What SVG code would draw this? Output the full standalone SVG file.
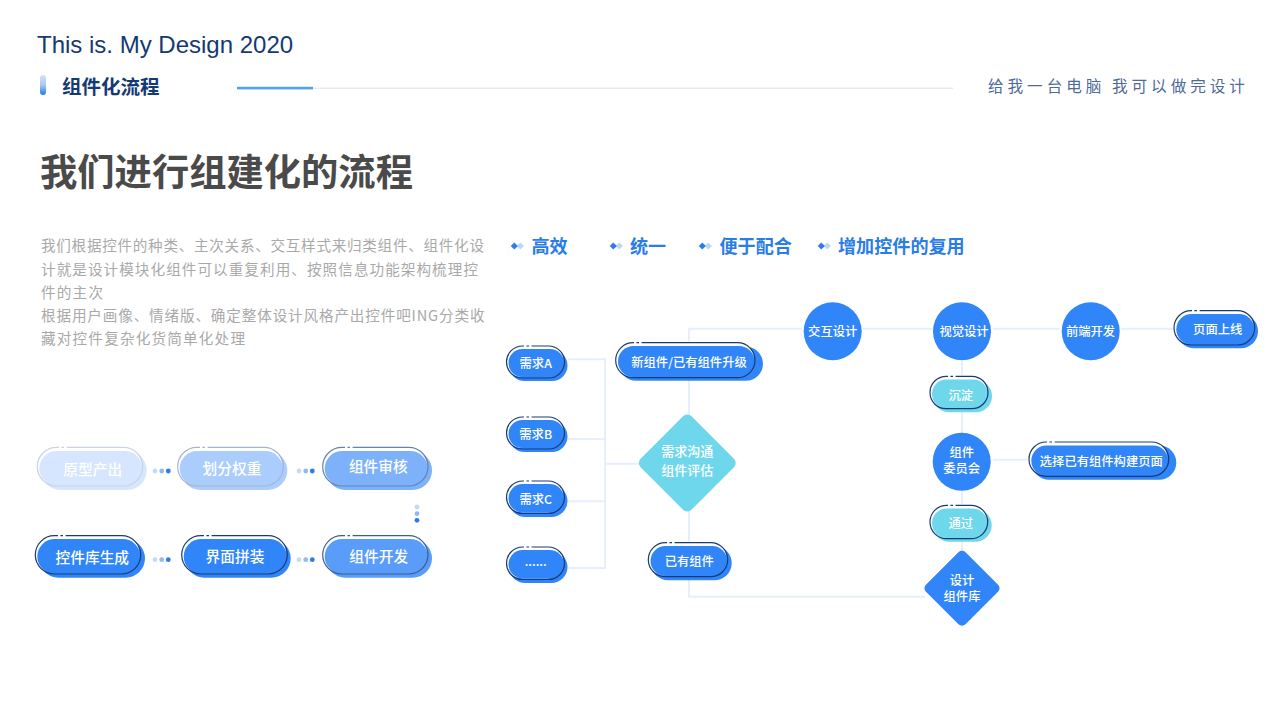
<svg xmlns="http://www.w3.org/2000/svg" width="1280" height="720" viewBox="0 0 1280 720">
<style>
text{font-family:"Liberation Sans","Noto Sans CJK SC",sans-serif;text-anchor:middle;dominant-baseline:central}
.cjk{font-family:"Noto Sans CJK SC","Liberation Sans",sans-serif}
.lbl{font-family:"Noto Sans CJK SC","Liberation Sans",sans-serif;font-size:12.3px;font-weight:500;fill:#fff;transform:translateY(-.4px)}
.lg{font-size:14.7px;transform:translateY(-1.2px)}
.md{font-size:13px}
.para{font-family:"Noto Sans CJK SC",sans-serif;font-size:14.6px;fill:#a9a9a9;text-anchor:start;transform:translateY(-1px)}
.feat{font-family:"Noto Sans CJK SC",sans-serif;font-size:18.1px;font-weight:700;fill:#2a7de6;text-anchor:start;transform:translateY(-1.5px)}
.wire{fill:none;stroke:#e6effb;stroke-width:2}
.gap{fill:#fff}
.blue{fill:#3086f8}.cyan{fill:#6fd7ec}
.halo{fill:#fff;transform:translate(-1.2px,-1.2px)}
.line{fill:none;stroke:#1c3a72;stroke-width:1.2}
.d1{fill:#c4daf9}.d2{fill:#8fbaf7}.d3{fill:#2a7de6}
</style>
<defs>
<linearGradient id="bar" x1="0" y1="0" x2="0" y2="1"><stop offset="0" stop-color="#d3e2f7"/><stop offset=".5" stop-color="#a9c9f3"/><stop offset="1" stop-color="#1f7be8"/></linearGradient>
<g id="dots"><circle cx="0" cy="0" r="2.4" class="d1"/><circle cx="6.7" cy="0" r="2.4" class="d2"/><circle cx="13.3" cy="0" r="2.4" class="d3"/></g>
<g id="vdots"><circle cx="0" cy="0" r="2.4" class="d1"/><circle cx="0" cy="6.7" r="2.4" class="d2"/><circle cx="0" cy="13.3" r="2.4" class="d3"/></g>
<g id="bul"><path d="M6 -3.6L9.6 0L6 3.6L2.4 0Z" fill="#bcd6f7"/><path d="M0 -3.6L3.6 0L0 3.6L-3.6 0Z" fill="#2a7de6"/></g>
<g id="nick"><rect x="0" y="0" width="2.4" height="3.200" class="gap"/><rect x="5" y="0" width="2.6" height="3.200" class="gap"/></g>
</defs>
<rect width="1280" height="720" fill="#fff"/>

<g id="header">
<text x="37" y="44.500" font-size="24" fill="#143a74" style="text-anchor:start">This is. My Design 2020</text>
<rect x="40" y="75" width="6" height="20" rx="3" fill="url(#bar)"/>
<text x="62" y="85" class="cjk" font-size="19.500" font-weight="700" fill="#143a74" style="text-anchor:start">组件化流程</text>
<rect x="237" y="87.500" width="716" height="1.400" fill="#e3e9f1"/>
<rect x="237" y="86.800" width="76" height="2.600" fill="#4da3ee"/>
<text y="85" class="cjk" font-size="15.600" fill="#4d6a9a" letter-spacing="3.950" style="text-anchor:start"><tspan x="988">给我一台电脑</tspan><tspan x="1112">我可以做完设计</tspan></text>
<text x="40" y="169.800" class="cjk" font-size="37.300" font-weight="700" fill="#4a4a4a" style="text-anchor:start">我们进行组建化的流程</text>
<text x="41" y="245" class="para" textLength="443" lengthAdjust="spacing">我们根据控件的种类、主次关系、交互样式来归类组件、组件化设</text>
<text x="41" y="269" class="para" textLength="437" lengthAdjust="spacing">计就是设计模块化组件可以重复利用、按照信息功能架构梳理控</text>
<text x="41" y="292" class="para" textLength="62" lengthAdjust="spacing">件的主次</text>
<text x="41" y="315" class="para" textLength="443.500" lengthAdjust="spacing">根据用户画像、情绪版、确定整体设计风格产出控件吧ING分类收</text>
<text x="41" y="338" class="para" textLength="204" lengthAdjust="spacing">藏对控件复杂化货简单化处理</text>
</g>

<g id="features">
<use href="#bul" x="514.300" y="246"/><text x="531.500" y="246" class="feat">高效</text>
<use href="#bul" x="613.300" y="246"/><text x="630" y="246" class="feat">统一</text>
<use href="#bul" x="702.300" y="246"/><text x="719.500" y="246" class="feat">便于配合</text>
<use href="#bul" x="821.300" y="246"/><text x="838" y="246" class="feat">增加控件的复用</text>
</g>

<g id="connectors">
<path class="wire" d="M568 359.300H605V568H568M568 439H605M568 501.300H605M605 463.700H640"/>
<path class="wire" d="M802 328.700H689V596.700H925"/>
<path class="wire" d="M862.700 328.700H932.700M992.700 328.700H1060M1121 328.700H1175"/>
<path class="wire" d="M962 361V433M962 491V552"/>
<path class="wire" d="M992.700 459.700H1029"/>
</g>

<g id="flow-dots">
<use href="#dots" x="155" y="471"/><use href="#dots" x="299" y="471"/>
<use href="#vdots" x="417" y="507"/>
<use href="#dots" x="155" y="559.700"/><use href="#dots" x="299" y="559.700"/>
</g>

<g id="n-yuanxing">
<rect x="41" y="451" width="105.700" height="39" rx="19.500" fill="#d6e6fe"/>
<rect x="37.300" y="447.300" width="105.400" height="38.700" rx="19.350" class="halo"/>
<rect x="39.300" y="451" width="103" height="35" rx="17.500" fill="#d6e6fe"/>
<rect x="37.300" y="447.300" width="105.400" height="38.700" rx="19.350" fill="none" stroke="#c9d3e3" stroke-width="1.200"/>
<use href="#nick" x="59" y="445.700"/>
<text x="92.700" y="470" class="lbl lg">原型产出</text>
</g>
<g id="n-huafen">
<rect x="181" y="451" width="106.300" height="39" rx="19.500" fill="#abcdfd"/>
<rect x="177.700" y="447.300" width="105.600" height="38.700" rx="19.350" class="halo"/>
<rect x="179.700" y="451" width="103" height="35" rx="17.500" fill="#abcdfd"/>
<rect x="177.700" y="447.300" width="105.600" height="38.700" rx="19.350" fill="none" stroke="#a8b4ce" stroke-width="1.200"/>
<use href="#nick" x="200" y="445.700"/>
<text x="232" y="469" class="lbl lg">划分权重</text>
</g>
<g id="n-shenhe">
<rect x="326" y="451" width="106" height="39" rx="19.500" fill="#7db2fb"/>
<rect x="322.700" y="447.300" width="105.300" height="38.700" rx="19.350" class="halo"/>
<rect x="324.700" y="451" width="103" height="35" rx="17.500" fill="#7db2fb"/>
<rect x="322.700" y="447.300" width="105.300" height="38.700" rx="19.350" fill="none" stroke="#6a83ad" stroke-width="1.200"/>
<use href="#nick" x="345" y="445.700"/>
<text x="378.300" y="467" class="lbl lg">组件审核</text>
</g>
<g id="n-kaifa">
<rect x="326" y="539" width="106" height="38.700" rx="19.350" fill="#5a9cf9"/>
<rect x="322.700" y="535.700" width="105.300" height="38.300" rx="19.150" class="halo"/>
<rect x="324.700" y="539" width="103" height="35" rx="17.500" fill="#5a9cf9"/>
<rect x="322.700" y="535.700" width="105.300" height="38.300" rx="19.150" fill="none" stroke="#3c5d92" stroke-width="1.200"/>
<use href="#nick" x="345" y="534.100"/>
<text x="378.700" y="557" class="lbl lg">组件开发</text>
</g>
<g id="n-pinzhuang">
<rect x="185" y="539" width="105.700" height="38.700" rx="19.350" class="blue"/>
<rect x="181.700" y="535.700" width="105.600" height="38.300" rx="19.150" class="halo"/>
<rect x="183.700" y="539" width="103" height="35" rx="17.500" class="blue"/>
<rect x="181.700" y="535.700" width="105.600" height="38.300" rx="19.150" class="line"/>
<use href="#nick" x="204" y="534.100"/>
<text x="235" y="556.700" class="lbl lg">界面拼装</text>
</g>
<g id="n-kongjianku">
<rect x="39" y="539" width="106" height="38.700" rx="19.350" class="blue"/>
<rect x="35.300" y="535.700" width="105.400" height="38.300" rx="19.150" class="halo"/>
<rect x="37.300" y="539" width="103" height="35" rx="17.500" class="blue"/>
<rect x="35.300" y="535.700" width="105.400" height="38.300" rx="19.150" class="line"/>
<use href="#nick" x="58" y="534.100"/>
<text x="92.300" y="557.300" class="lbl lg">控件库生成</text>
</g>

<g id="n-xqa">
<rect x="509" y="350" width="58.500" height="31" rx="15.500" class="blue"/>
<rect x="506.500" y="346" width="58" height="32" rx="16" class="halo"/>
<rect x="508.500" y="349" width="55.500" height="28" rx="14" class="blue"/>
<rect x="506.500" y="346" width="58" height="32" rx="16" class="line"/>
<use href="#nick" x="524" y="344.500"/>
<text x="535.700" y="363.300" class="lbl">需求A</text>
</g>
<g id="n-xqb">
<rect x="509" y="421" width="58.500" height="31" rx="15.500" class="blue"/>
<rect x="506.500" y="417" width="58" height="32" rx="16" class="halo"/>
<rect x="508.500" y="420" width="55.500" height="28" rx="14" class="blue"/>
<rect x="506.500" y="417" width="58" height="32" rx="16" class="line"/>
<use href="#nick" x="524" y="415.500"/>
<text x="535.700" y="434.700" class="lbl">需求B</text>
</g>
<g id="n-xqc">
<rect x="509" y="485" width="58.500" height="32" rx="16" class="blue"/>
<rect x="506.500" y="481" width="58" height="32.500" rx="16.250" class="halo"/>
<rect x="508.500" y="484" width="55.500" height="28.500" rx="14.250" class="blue"/>
<rect x="506.500" y="481" width="58" height="32.500" rx="16.250" class="line"/>
<use href="#nick" x="524" y="479.500"/>
<text x="535.700" y="499" class="lbl">需求C</text>
</g>
<g id="n-xqd">
<rect x="509" y="551" width="58.500" height="32" rx="16" class="blue"/>
<rect x="506.500" y="547" width="58" height="32.500" rx="16.250" class="halo"/>
<rect x="508.500" y="550" width="55.500" height="28.500" rx="14.250" class="blue"/>
<rect x="506.500" y="547" width="58" height="32.500" rx="16.250" class="line"/>
<use href="#nick" x="524" y="545.500"/>
<text x="535.700" y="561.500" class="lbl">......</text>
</g>
<g id="n-xinzujian">
<rect x="619" y="346.700" width="144" height="34" rx="17" class="blue"/>
<rect x="615.700" y="342.700" width="139.300" height="35" rx="17.500" class="halo"/>
<rect x="618" y="346" width="136.500" height="31" rx="15.500" class="blue"/>
<rect x="615.700" y="342.700" width="139.300" height="35" rx="17.500" class="line"/>
<use href="#nick" x="634" y="341.200"/>
<text x="689" y="362.300" class="lbl">新组件/已有组件升级</text>
</g>
<g id="n-pinggu">
<rect x="651.300" y="427" width="72" height="72" rx="6" class="cyan" transform="rotate(45 687.300 463)"/>
<text x="687.300" y="450.700" class="lbl md">需求沟通</text>
<text x="687.300" y="470" class="lbl md">组件评估</text>
</g>
<g id="n-yiyou">
<rect x="651" y="546" width="80.700" height="34.300" rx="17.150" class="blue"/>
<rect x="648.300" y="542.700" width="79.400" height="34" rx="17" class="halo"/>
<rect x="650.500" y="546" width="76.700" height="30" rx="15" class="blue"/>
<rect x="648.300" y="542.700" width="79.400" height="34" rx="17" class="line"/>
<use href="#nick" x="667" y="541.200"/>
<text x="689.300" y="561.700" class="lbl">已有组件</text>
</g>

<g id="n-jiaohu"><circle cx="832.700" cy="331.300" r="29" class="blue"/><text x="832.700" y="331.700" class="lbl">交互设计</text></g>
<g id="n-shijue"><circle cx="962" cy="331.300" r="29" class="blue"/><text x="964" y="331.700" class="lbl">视觉设计</text></g>
<g id="n-qianduan"><circle cx="1090.700" cy="331.300" r="29" class="blue"/><text x="1090.500" y="331.700" class="lbl">前端开发</text></g>
<g id="n-shangxian">
<rect x="1177" y="314" width="81" height="34.300" rx="17.150" class="blue"/>
<rect x="1174" y="310.700" width="80.700" height="34.300" rx="17.150" class="halo"/>
<rect x="1176.300" y="314" width="78" height="30.500" rx="15.250" class="blue"/>
<rect x="1174" y="310.700" width="80.700" height="34.300" rx="17.150" class="line"/>
<use href="#nick" x="1192" y="309.200"/>
<text x="1217.700" y="329.300" class="lbl">页面上线</text>
</g>
<g id="n-chendian">
<rect x="933" y="380" width="59" height="32.300" rx="16.150" class="cyan"/>
<rect x="930" y="376.300" width="58" height="32.400" rx="16.200" class="halo"/>
<rect x="932" y="379.500" width="55.500" height="28.500" rx="14.250" class="cyan"/>
<rect x="930" y="376.300" width="58" height="32.400" rx="16.200" class="line"/>
<use href="#nick" x="948" y="374.800"/>
<text x="960.700" y="395.300" class="lbl">沉淀</text>
</g>
<g id="n-weiyuanhui"><circle cx="961.700" cy="461.700" r="29" class="blue"/><text x="961.700" y="452.700" class="lbl">组件</text><text x="961.700" y="468.700" class="lbl">委员会</text></g>
<g id="n-xuanze">
<rect x="1032" y="445.500" width="144.300" height="34.200" rx="17.100" class="blue"/>
<rect x="1029" y="442" width="139.700" height="34.300" rx="17.150" class="halo"/>
<rect x="1031.300" y="445.500" width="137" height="30.500" rx="15.250" class="blue"/>
<rect x="1029" y="442" width="139.700" height="34.300" rx="17.150" class="line"/>
<use href="#nick" x="1047" y="440.500"/>
<text x="1101.300" y="461.300" class="lbl">选择已有组件构建页面</text>
</g>
<g id="n-tongguo">
<rect x="933" y="509" width="58.700" height="32.700" rx="16.350" class="cyan"/>
<rect x="930" y="505.300" width="57.700" height="33.400" rx="16.700" class="halo"/>
<rect x="932" y="508.500" width="55.300" height="29.500" rx="14.750" class="cyan"/>
<rect x="930" y="505.300" width="57.700" height="33.400" rx="16.700" class="line"/>
<use href="#nick" x="948" y="503.800"/>
<text x="960.700" y="523" class="lbl">通过</text>
</g>
<g id="n-zujianku">
<rect x="934" y="560.300" width="56" height="56" rx="5" class="blue" transform="rotate(45 962 588.300)"/>
<text x="962" y="580.300" class="lbl">设计</text><text x="962" y="596.300" class="lbl">组件库</text>
</g>
</svg>
